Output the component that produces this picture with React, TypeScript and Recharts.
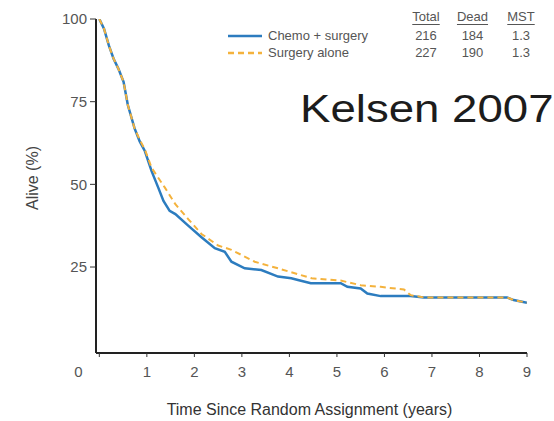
import { LineChart, Line, XAxis, YAxis, Legend } from "recharts";

// Kaplan-Meier read-offs (years, % alive)
const chemoYears = [0, 0.1, 0.2, 0.3, 0.4, 0.51, 0.6, 0.74, 0.85, 0.96, 1.1, 1.24, 1.35, 1.48, 1.6, 1.87, 2.15, 2.43, 2.64, 2.78, 3.06, 3.41, 3.76, 4.04, 4.18, 4.45, 5.08, 5.22, 5.5, 5.64, 5.92, 6.55, 6.83, 8.58, 8.72, 9.0];
const chemoAlive = [100, 97, 92, 88, 85, 81, 74, 67, 63, 60, 54, 49, 45, 42, 41, 37.5, 34, 30.7, 29.6, 26.6, 24.6, 24.1, 22.1, 21.6, 21.1, 20.1, 20.1, 19.0, 18.5, 17.0, 16.2, 16.2, 15.8, 15.8, 15.0, 14.2];

const surgYears = [0, 0.1, 0.2, 0.3, 0.4, 0.51, 0.6, 0.74, 0.85, 0.96, 1.1, 1.38, 1.6, 1.87, 2.15, 2.5, 2.78, 3.27, 3.76, 4.47, 5.08, 5.5, 5.92, 6.41, 6.55, 6.83, 8.58, 8.72, 9.0];
const surgAlive = [100, 97, 92, 88, 85, 81, 74, 67, 63.5, 60.5, 55, 49, 44, 39.5, 35, 31.5, 30.2, 26.6, 24.6, 21.6, 20.9, 19.5, 19.0, 18.2, 16.5, 15.8, 15.8, 15.0, 14.2];

const xTicks = [0, 1, 2, 3, 4, 5, 6, 7, 8, 9];
const yTicks = [25, 50, 75, 100];

const legendHead = ["Total", "Dead", "MST"];
const legendRows = [
  { name: "Chemo + surgery", total: "216", dead: "184", mst: "1.3" },
  { name: "Surgery alone", total: "227", dead: "190", mst: "1.3" },
];

const BLUE = "#2c7cbf";
const ORANGE = "#f4b23c";
const FONT = "'Liberation Sans', Arial, sans-serif";

const chemoData = chemoYears.map((t, i) => ({ t, v: chemoAlive[i] }));
const surgData = surgYears.map((t, i) => ({ t, v: surgAlive[i] }));

function XTick(props: any) {
  const { x, y, payload } = props;
  const shift = payload.value === 0 ? -21 : 0;
  return (
    <text x={x + shift} y={y} dy="0.71em" textAnchor="middle" fontSize={15} fill="#555" fontFamily={FONT}>
      {payload.value}
    </text>
  );
}

function LegendTable() {
  const colW = [46, 47, 50];
  const colors = [BLUE, ORANGE];
  const cell = { display: "inline-block", textAlign: "center" as const };
  return (
    <div style={{ fontFamily: FONT, fontSize: 13, color: "#555", lineHeight: "17px" }}>
      <div style={{ paddingLeft: 181, height: 19 }}>
        {legendHead.map((h, i) => (
          <span key={h} style={{ ...cell, width: colW[i] }}>
            <span style={{ textDecoration: "underline", textUnderlineOffset: 3 }}>{h}</span>
          </span>
        ))}
      </div>
      {legendRows.map((r, j) => (
        <div key={r.name} style={{ display: "flex", alignItems: "center", height: 17 }}>
          <svg width={40} height={10} style={{ marginLeft: 6 }}>
            <line x1={0} x2={34} y1={5} y2={5} stroke={colors[j]} strokeWidth={2.5} strokeDasharray={j === 1 ? "6 4" : undefined} />
          </svg>
          <span style={{ width: 135 }}>{r.name}</span>
          <span style={{ ...cell, width: colW[0] }}>{r.total}</span>
          <span style={{ ...cell, width: colW[1] }}>{r.dead}</span>
          <span style={{ ...cell, width: colW[2] }}>{r.mst}</span>
        </div>
      ))}
    </div>
  );
}

export default function App() {
  return (
    <div style={{ position: "absolute", left: 0, top: 0, width: 554, height: 421, background: "#fff" }}>
      <LineChart width={554} height={421} margin={{ top: 19, right: 27, left: 0, bottom: 0 }}>
        <XAxis
          type="number"
          dataKey="t"
          domain={[-0.07, 9]}
          ticks={xTicks}
          allowDataOverflow
          height={68}
          axisLine={{ stroke: "#222", strokeWidth: 2 }}
          tickLine={{ stroke: "#333" }}
          tickSize={4}
          tickMargin={9}
          tick={<XTick />}
          label={{
            content: ({ viewBox }: any) => (
              <text x={viewBox.x + viewBox.width / 2 - 2} y={viewBox.y + 62} textAnchor="middle" fontSize={16} fill="#333" fontFamily={FONT}>
                Time Since Random Assignment (years)
              </text>
            ),
          }}
        />
        <YAxis
          type="number"
          domain={[-1, 100]}
          ticks={yTicks}
          allowDataOverflow
          width={96}
          axisLine={{ stroke: "#222", strokeWidth: 2 }}
          tickLine={{ stroke: "#333" }}
          tickSize={6}
          tickMargin={3}
          tick={{ fontSize: 15, fill: "#555", fontFamily: FONT }}
          label={{
            content: ({ viewBox }: any) => (
              <text
                x={38}
                y={viewBox.y + viewBox.height / 2 - 8}
                transform={`rotate(-90, 38, ${viewBox.y + viewBox.height / 2 - 8})`}
                textAnchor="middle"
                fontSize={16}
                fill="#444"
                fontFamily={FONT}
              >
                Alive (%)
              </text>
            ),
          }}
        />
        <Legend
          layout="vertical"
          align="center"
          verticalAlign="middle"
          wrapperStyle={{ position: "absolute", left: 222, top: 8, width: 332 }}
          content={() => <LegendTable />}
        />
        <Line data={chemoData} dataKey="v" name="Chemo + surgery" type="linear" stroke={BLUE} strokeWidth={2.5} dot={false} isAnimationActive={false} />
        <Line data={surgData} dataKey="v" name="Surgery alone" type="linear" stroke={ORANGE} strokeWidth={2} strokeDasharray="6 4" dot={false} isAnimationActive={false} />
      </LineChart>
      <div
        style={{
          position: "absolute",
          left: 300,
          top: 88,
          fontFamily: FONT,
          fontSize: 38,
          color: "#1c1c1c",
          whiteSpace: "nowrap",
          transform: "scaleX(1.2)",
          transformOrigin: "left top",
        }}
      >
        Kelsen 2007
      </div>
    </div>
  );
}
